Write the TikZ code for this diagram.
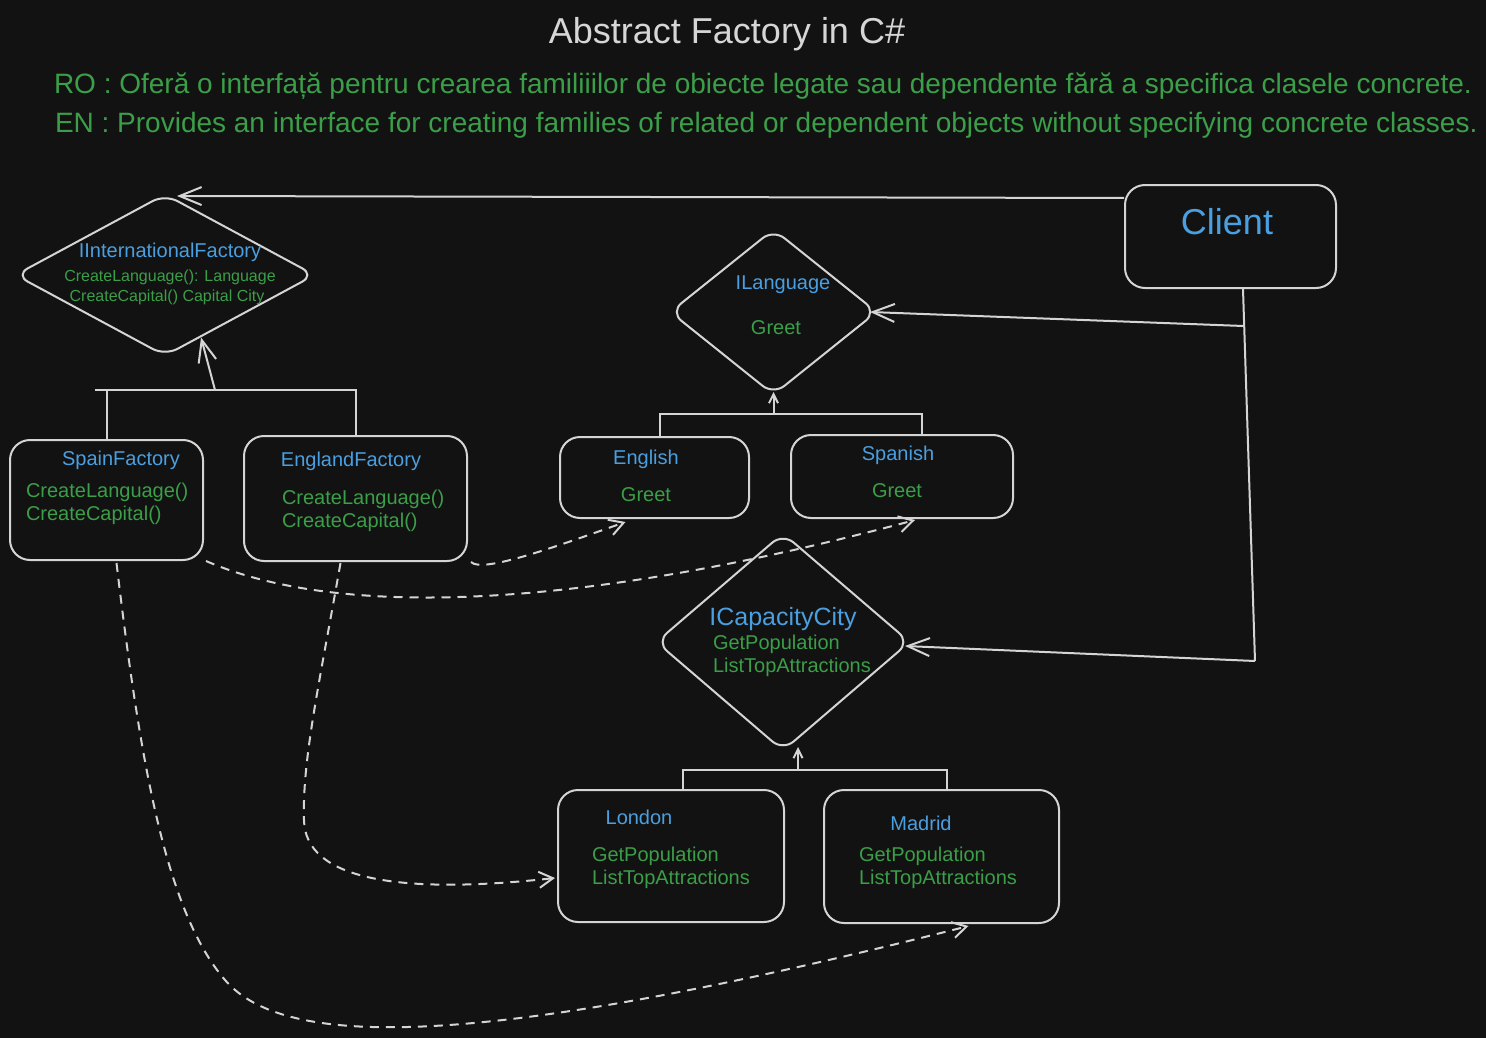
\documentclass[tikz,border=0pt]{standalone}
\usepackage{fontspec}
\setmainfont{Liberation Sans}
\usetikzlibrary{shapes.geometric,arrows.meta,calc}

\definecolor{bgcol}{HTML}{121212}
\definecolor{linecol}{HTML}{D4D4D4}
\definecolor{titlecol}{HTML}{D6D6D6}
\definecolor{namecol}{HTML}{4A9FE0}
\definecolor{membcol}{HTML}{3B9E48}

\tikzset{every picture/.style={line width=2pt}}
\tikzset{
  classbox/.style={draw=linecol, line width=2pt, rounded corners=20pt, inner sep=0pt},
  iface/.style={draw=linecol, line width=2pt, diamond, rounded corners=14pt, inner sep=0pt},
  link/.style={draw=linecol, line width=2pt},
  dep/.style={draw=linecol, line width=2pt, dash pattern=on 9pt off 7pt, -{Straight Barb[length=14pt,width=16pt]}},
  bigtip/.style={-{Straight Barb[length=22pt,width=18pt]}},
  smalltip/.style={-{Straight Barb[length=9pt,width=9pt]}},
  cname/.style={text=namecol, font=\fontsize{20}{24}\selectfont, inner sep=0pt},
  cmemb/.style={text=membcol, font=\fontsize{20}{24}\selectfont, inner sep=0pt},
}

\begin{document}
\begin{tikzpicture}[x=1pt,y=1pt,yscale=-1,xscale=1]
\useasboundingbox (0,0) rectangle (1486,1038);
\fill [bgcol] (0,0) rectangle (1486,1038);

% Text Node
\node (title) [text=titlecol, font=\fontsize{36}{40}\selectfont, inner sep=0pt] at (727,34) {Abstract Factory in C\#};
% Text Node
\node (ro) [anchor=west, text=membcol, font=\fontsize{28}{32}\selectfont, inner sep=0pt] at (53,86) {RO : Oferă o interfață pentru crearea familiiilor de obiecte legate sau dependente fără a specifica clasele concrete.};
% Text Node
\node (en) [anchor=west, text=membcol, font=\fontsize{28}{32}\selectfont, inner sep=0pt] at (54,125) {EN : Provides an interface for creating families of related or dependent objects without specifying concrete classes.};

%Shape: Diamond
\node (ifac) [iface, minimum width=300, minimum height=162] at (165,275) {};
%Shape: Diamond
\node (ilang) [iface, minimum width=207, minimum height=166] at (773.5,312) {};
%Shape: Diamond
\node (icap) [iface, minimum width=254, minimum height=218] at (783,642) {};
%Shape: Rectangle
\node (client) [classbox, minimum width=211, minimum height=103] at (1230.5,236.5) {};
%Shape: Rectangle
\node (spain) [classbox, minimum width=193, minimum height=120] at (106.5,500) {};
%Shape: Rectangle
\node (eng) [classbox, minimum width=223, minimum height=125] at (355.5,498.5) {};
%Shape: Rectangle
\node (english) [classbox, minimum width=189, minimum height=81] at (654.5,477.5) {};
%Shape: Rectangle
\node (spanish) [classbox, minimum width=222, minimum height=83] at (902,476.5) {};
%Shape: Rectangle
\node (london) [classbox, minimum width=226, minimum height=132] at (671,856) {};
%Shape: Rectangle
\node (madrid) [classbox, minimum width=235, minimum height=133] at (941.5,856.5) {};

% Text Node
\node (ifacname) [cname] at (170,252) {IInternationalFactory};
\node (ifacm1) [cmemb, font=\fontsize{16}{19}\selectfont] at (170,277) {CreateLanguage(): Language};
\node (ifacm2) [cmemb, font=\fontsize{16}{19}\selectfont] at (167,297) {CreateCapital() Capital City};
% Text Node
\node (clientname) [cname, font=\fontsize{36}{40}\selectfont] at (1227,222) {Client};
% Text Node
\node (ilangname) [cname] at (783,285) {ILanguage};
\node (ilangm1) [cmemb] at (776,328) {Greet};
% Text Node
\node (spainname) [cname] at (121,460) {SpainFactory};
\node (spainm1) [cmemb, anchor=west] at (25,492) {CreateLanguage()};
\node (spainm2) [cmemb, anchor=west] at (25,515) {CreateCapital()};
% Text Node
\node (engname) [cname] at (351,461) {EnglandFactory};
\node (engm1) [cmemb, anchor=west] at (281,499) {CreateLanguage()};
\node (engm2) [cmemb, anchor=west] at (281,522) {CreateCapital()};
% Text Node
\node (englishname) [cname] at (646,459) {English};
\node (englishm1) [cmemb] at (646,495) {Greet};
% Text Node
\node (spanishname) [cname] at (898,455) {Spanish};
\node (spanishm1) [cmemb] at (897,491) {Greet};
% Text Node
\node (icapname) [cname, font=\fontsize{25}{29}\selectfont] at (783,619) {ICapacityCity};
\node (icapm1) [cmemb, anchor=west] at (712,644) {GetPopulation};
\node (icapm2) [cmemb, anchor=west] at (712,667) {ListTopAttractions};
% Text Node
\node (londonname) [cname] at (639,817) {London};
\node (londonm1) [cmemb, anchor=west] at (591,856) {GetPopulation};
\node (londonm2) [cmemb, anchor=west] at (591,879) {ListTopAttractions};
% Text Node
\node (madridname) [cname] at (921,823) {Madrid};
\node (madridm1) [cmemb, anchor=west] at (858,856) {GetPopulation};
\node (madridm2) [cmemb, anchor=west] at (858,879) {ListTopAttractions};

%Straight Lines
\draw [link, bigtip] ($(client.north west)+(0,14)$) -- ($(ifac.north)+(12,3)$);
%Straight Lines
\draw [link] ($(client.south)+(12.5,0)$) -- ($(client.south)+(24.5,372)$) coordinate (cfoot);
\draw [link, bigtip] ($(client.south)+(13,37)$) -- ($(ilang.east)+(-8,0)$);
\draw [link, bigtip] (cfoot) -- ($(icap.east)+(-6,4)$);

%Straight Lines
\coordinate (fbar) at ($(ifac.south)+(50,33)$);
\draw [link] ($(spain.north |- fbar)+(-12,0)$) -- (eng.north |- fbar) -- (eng.north);
\draw [link] (spain.north |- fbar) -- (spain.north);
\draw [link, bigtip] (fbar) -- (ifac.-60);
%Straight Lines
\coordinate (lbar) at ($(ilang.south)+(0,18)$);
\draw [link] ($(english.north)+(5,0)$) -- ($(english.north |- lbar)+(5,0)$) -- ($(spanish.north |- lbar)+(20,0)$) -- ($(spanish.north)+(20,0)$);
\draw [link, smalltip] (lbar) -- ($(ilang.south)+(0,-4)$);
%Straight Lines
\coordinate (cbar) at ($(icap.south)+(15,18)$);
\draw [link] ($(london.north)+(12,0)$) -- ($(london.north |- cbar)+(12,0)$) -- ($(madrid.north |- cbar)+(5,0)$) -- ($(madrid.north)+(5,0)$);
\draw [link, smalltip] (cbar) -- ($(icap.south)+(15,-5)$);

%Curve Lines
\coordinate (lbend) at (304,820);
\coordinate (mbend) at (225,980);
\draw [dep] ($(eng.south east)+(3,0)$) .. controls (482,574) and (560,545) .. ($(english.south)+(-29,3)$);
\draw [dep] ($(spain.south east)+(2,0)$) .. controls (330,615) and (560,615) .. ($(spanish.south)+(13,1)$);
\draw [dep] ($(eng.south)+(-15,1)$) .. controls (320,680) and (302,760) .. (lbend) .. controls (305,880) and (400,895) .. ($(london.west)+(-2,22)$);
\draw [dep] ($(spain.south)+(10,2)$) .. controls (140,760) and (165,910) .. (mbend) .. controls (285,1050) and (480,1050) .. ($(madrid.south)+(27,2)$);

\end{tikzpicture}
\end{document}
